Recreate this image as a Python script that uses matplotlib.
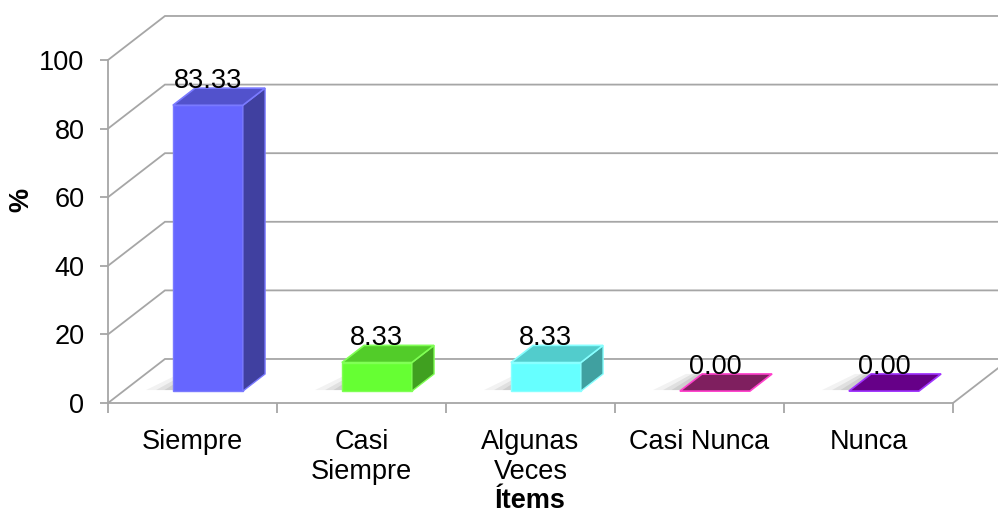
import numpy as np
import matplotlib.pyplot as plt
from matplotlib.patches import Polygon

plt.rcParams['font.family'] = ['Liberation Sans', 'DejaVu Sans']

categorias = ["Siempre", "Casi\nSiempre", "Algunas\nVeces", "Casi Nunca", "Nunca"]
porcentajes = [83.33, 8.33, 8.33, 0.00, 0.00]
etiquetas = ["83.33", "8.33", "8.33", "0.00", "0.00"]

# colores de cada barra: frente, lado, tapa, borde
frente = ["#6666ff", "#66ff33", "#66ffff", "#7f1f5f", "#660088"]
lado = ["#4040a0", "#40a020", "#40a0a0", "#7f1f5f", "#660088"]
tapa = ["#5252cc", "#52cc29", "#52cccc", "#7f1f5f", "#660088"]
borde = ["#7a7aff", "#80ff55", "#88ffff", "#ff40cc", "#a033ff"]

gris = "#a6a6a6"
fs = 19.5

# profundidad de la vista oblicua (en unidades de datos)
du, dv = 0.337, 12.83
f0, f1 = 0.27, 0.66   # fraccion de profundidad de la cara frontal / trasera de la barra
ancho = 0.414

fig = plt.figure(figsize=(9.98, 5.17), dpi=100)
ax = fig.add_axes([108 / 998, 114 / 517, 845 / 998, 343 / 517])
n = len(categorias)
ax.set_xlim(0, n)
ax.set_ylim(0, 100)

# pared del fondo y piso
for v in range(0, 101, 20):
    ax.plot([0, du, n + du + 1], [v, v + dv, v + dv], color=gris, lw=1.3,
            clip_on=False, zorder=1, solid_joinstyle='miter')
ax.plot([n, n + du], [0, dv], color=gris, lw=1.3, clip_on=False, zorder=1)

for i, val in enumerate(porcentajes):
    c = i + 0.5
    x0 = c - ancho / 2 + f0 * du
    y0 = f0 * dv
    ddx = (f1 - f0) * du
    ddy = (f1 - f0) * dv

    # sombra suave sobre el piso, a la izquierda de la barra
    for s, a in [(0.16, 0.05), (0.10, 0.07), (0.05, 0.08)]:
        sh = Polygon([(x0 - s, y0 + 0.3), (x0 + ancho * 0.5, y0 + 0.3),
                      (x0 + ancho * 0.5 + ddx, y0 + ddy), (x0 - s * 0.6 + ddx, y0 + ddy)],
                     closed=True, facecolor="black", edgecolor="none", lw=0, alpha=a,
                     clip_on=False, zorder=2)
        ax.add_patch(sh)

    if val > 0:
        cara = Polygon([(x0, y0), (x0 + ancho, y0), (x0 + ancho, y0 + val), (x0, y0 + val)],
                       closed=True, facecolor=frente[i], edgecolor=borde[i], lw=1,
                       clip_on=False, zorder=3)
        costado = Polygon([(x0 + ancho, y0), (x0 + ancho + ddx, y0 + ddy),
                           (x0 + ancho + ddx, y0 + val + ddy), (x0 + ancho, y0 + val)],
                          closed=True, facecolor=lado[i], edgecolor=borde[i], lw=1,
                          clip_on=False, zorder=3)
        ax.add_patch(cara)
        ax.add_patch(costado)
    techo = Polygon([(x0, y0 + val), (x0 + ancho, y0 + val),
                     (x0 + ancho + ddx, y0 + val + ddy), (x0 + ddx, y0 + val + ddy)],
                    closed=True, facecolor=tapa[i], edgecolor=borde[i], lw=1.2,
                    clip_on=False, zorder=4)
    ax.add_patch(techo)

    ax.text(x0 + ancho / 2, y0 + val + ddy, etiquetas[i], ha='center', va='baseline',
            fontsize=fs, color='black', zorder=5, clip_on=False)

for s in ['top', 'right']:
    ax.spines[s].set_visible(False)
for s in ['left', 'bottom']:
    ax.spines[s].set_color(gris)
    ax.spines[s].set_linewidth(1.3)
ax.set_facecolor('none')

ax.set_yticks(range(0, 101, 20))
ax.tick_params(axis='y', length=6, width=1.3, color=gris, labelsize=fs, pad=11)
ax.set_xticks(np.arange(n) + 0.5)
ax.set_xticklabels(categorias)
ax.set_xticks(np.arange(n + 1), minor=True)
ax.tick_params(axis='x', which='major', length=0, labelsize=fs, pad=19)
ax.tick_params(axis='x', which='minor', length=7, width=1.3, color=gris)

ax.set_xlabel("Ítems", fontsize=fs, fontweight='bold', labelpad=2)
ax.text(-0.103, 0.592, "%", transform=ax.transAxes, rotation=90, ha='center',
        va='center', fontsize=fs, fontweight='bold')

fig.savefig("out.png", dpi=100)
